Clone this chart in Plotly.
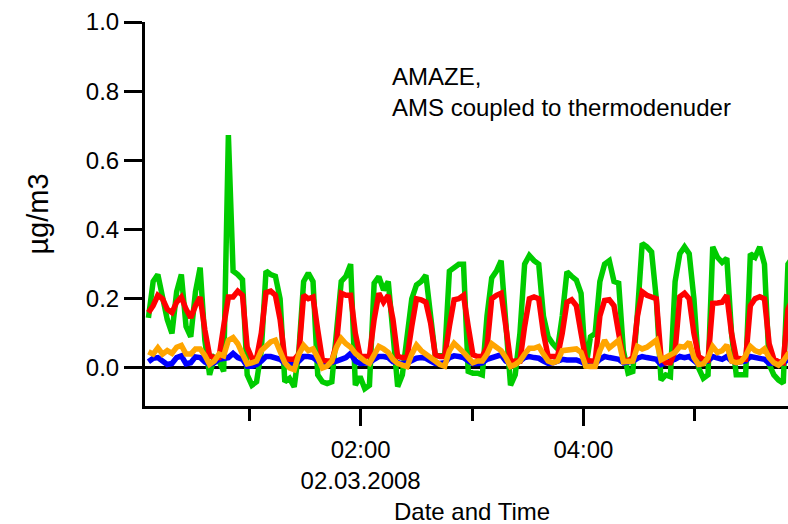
import plotly.graph_objects as go
import pandas as pd

# sampling grid of the instrument (one point every 152 s)
start_time = "2008-03-02 00:05:40"
sample_interval = "152s"

green = [0.145, 0.25, 0.27, 0.21, 0.14, 0.10, 0.22, 0.27, 0.12, 0.09,
         0.22, 0.29, 0.08, -0.02, 0.03, 0.02, -0.01, 0.673, 0.28, 0.27,
         0.255, -0.02, -0.05, -0.04, 0.05, 0.28, 0.27, 0.265, 0.20, -0.04,
         -0.03, -0.055, 0.05, 0.25, 0.274, 0.25, -0.02, -0.04, -0.045, -0.04,
         0.10, 0.25, 0.265, 0.30, -0.05, -0.025, -0.06, -0.05, 0.245, 0.264,
         0.225, 0.25, 0.10, -0.054, -0.02, 0.10, 0.20, 0.24, 0.25, 0.268,
         0.15, 0.035, 0.035, 0.035, 0.28, 0.29, 0.30, 0.30, -0.01, -0.015,
         -0.015, -0.02, 0.15, 0.26, 0.28, 0.31, 0.10, -0.05, -0.02, 0.10,
         0.30, 0.325, 0.31, 0.30, 0.15, 0.09, 0.07, 0.055, 0.15, 0.278,
         0.265, 0.254, 0.216, 0.0, 0.09, 0.10, 0.25, 0.30, 0.31, 0.25,
         0.245, 0.05, -0.015, -0.01, 0.16, 0.36, 0.35, 0.335, 0.20, -0.035,
         -0.02, -0.025, 0.25, 0.33, 0.35, 0.33, 0.20, 0.0, -0.03, -0.02,
         0.35, 0.32, 0.305, 0.317, 0.10, -0.02, -0.02, -0.02, 0.33, 0.32,
         0.35, 0.30, 0.01, -0.02, -0.035, -0.044, 0.30, 0.32]

red = [0.16, 0.18, 0.21, 0.20, 0.17, 0.16, 0.19, 0.205, 0.17, 0.145,
       0.18, 0.205, 0.11, 0.035, 0.03, 0.03, 0.12, 0.205, 0.205, 0.222,
       0.21, 0.06, 0.028, 0.028, 0.10, 0.218, 0.222, 0.21, 0.14, 0.027,
       0.025, 0.025, 0.04, 0.21, 0.20, 0.205, 0.11, 0.022, 0.02, 0.02,
       0.07, 0.216, 0.21, 0.21, 0.10, 0.035, 0.033, 0.035, 0.14, 0.216,
       0.19, 0.21, 0.14, 0.033, 0.03, 0.03, 0.12, 0.20, 0.197, 0.19,
       0.13, 0.038, 0.033, 0.033, 0.12, 0.197, 0.20, 0.21, 0.12, 0.038,
       0.033, 0.033, 0.06, 0.20, 0.21, 0.216, 0.12, 0.018, 0.02, 0.02,
       0.12, 0.20, 0.205, 0.20, 0.10, 0.033, 0.033, 0.033, 0.10, 0.19,
       0.197, 0.18, 0.10, 0.025, 0.02, 0.02, 0.15, 0.195, 0.197, 0.18,
       0.10, 0.025, 0.02, 0.03, 0.15, 0.22, 0.21, 0.206, 0.20, 0.03,
       0.015, 0.015, 0.05, 0.206, 0.216, 0.20, 0.10, 0.033, 0.025, 0.023,
       0.187, 0.188, 0.19, 0.21, 0.10, 0.028, 0.025, 0.025, 0.18, 0.20,
       0.206, 0.20, 0.07, 0.025, 0.018, 0.015, 0.17, 0.20]

blue = [0.018, 0.028, 0.03, 0.02, 0.01, 0.013, 0.03, 0.035, 0.012, 0.015,
        0.032, 0.03, 0.017, 0.01, 0.015, 0.025, 0.028, 0.03, 0.042, 0.03,
        0.025, 0.005, 0.005, 0.01, 0.02, 0.033, 0.033, 0.03, 0.025, 0.013,
        0.013, 0.01, 0.02, 0.033, 0.033, 0.03, 0.02, 0.013, 0.013, 0.015,
        0.02, 0.025, 0.03, 0.042, 0.02, 0.013, 0.013, 0.015, 0.025, 0.033,
        0.033, 0.03, 0.018, 0.013, 0.012, 0.015, 0.022, 0.028, 0.03, 0.028,
        0.02, 0.013, 0.013, 0.015, 0.03, 0.035, 0.033, 0.03, 0.02, 0.013,
        0.013, 0.015, 0.025, 0.03, 0.035, 0.038, 0.02, 0.013, 0.015, 0.02,
        0.03, 0.033, 0.03, 0.028, 0.02, 0.013, 0.015, 0.02, 0.025, 0.023,
        0.023, 0.023, 0.018, 0.01, 0.01, 0.012, 0.025, 0.033, 0.03, 0.028,
        0.025, 0.015, 0.018, 0.02, 0.028, 0.033, 0.03, 0.028, 0.025, 0.01,
        0.015, 0.018, 0.025, 0.033, 0.03, 0.033, 0.02, 0.01, 0.018, 0.02,
        0.033, 0.03, 0.025, 0.033, 0.02, 0.015, 0.018, 0.02, 0.033, 0.03,
        0.03, 0.025, 0.013, 0.013, 0.015, 0.015, 0.025, 0.03]

orange = [0.047, 0.04, 0.058, 0.04, 0.05, 0.042, 0.06, 0.065, 0.04, 0.04,
          0.055, 0.055, 0.036, 0.01, 0.02, 0.04, 0.035, 0.08, 0.088, 0.07,
          0.04, 0.012, 0.015, 0.02, 0.05, 0.065, 0.075, 0.08, 0.045, 0.015,
          0.0, -0.005, 0.04, 0.065, 0.05, 0.055, 0.03, 0.0, 0.005, 0.02,
          0.06, 0.085, 0.07, 0.06, 0.042, 0.03, 0.02, 0.013, 0.04, 0.062,
          0.055, 0.045, 0.025, 0.013, 0.008, 0.004, 0.04, 0.066, 0.05, 0.04,
          0.03, 0.02, 0.01, 0.005, 0.05, 0.071, 0.06, 0.045, 0.03, 0.015,
          0.02, 0.02, 0.04, 0.07, 0.06, 0.05, 0.03, 0.004, 0.01, 0.02,
          0.04, 0.057, 0.057, 0.062, 0.04, 0.02, 0.015, 0.02, 0.05, 0.052,
          0.055, 0.055, 0.045, 0.005, 0.004, 0.004, 0.05, 0.08, 0.058, 0.07,
          0.08, 0.018, 0.018, 0.02, 0.062, 0.055, 0.06, 0.07, 0.08, 0.023,
          0.03, 0.035, 0.045, 0.062, 0.06, 0.075, 0.03, 0.01, 0.012, 0.03,
          0.062, 0.045, 0.05, 0.066, 0.02, 0.015, 0.018, 0.035, 0.062, 0.05,
          0.045, 0.055, 0.03, 0.015, 0.008, 0.02, 0.04, 0.05]

x_range = ["2008-03-02 00:03:49", "2008-03-02 05:50:13"]
major_ticks = ["2008-03-02 02:00", "2008-03-02 04:00"]
major_labels = ["02:00<br>02.03.2008", "04:00"]
minor_ticks = ["2008-03-02 01:00", "2008-03-02 03:00", "2008-03-02 05:00"]
y_ticks = [0.0, 0.2, 0.4, 0.6, 0.8, 1.0]

times = pd.date_range(start_time, periods=len(red), freq=sample_interval)

series = [("green", green, "#00CC00"),
          ("blue", blue, "#0000FF"),
          ("red", red, "#FF0000"),
          ("orange", orange, "#FFA500")]

fig = go.Figure()
for name, vals, col in series:
    fig.add_trace(go.Scatter(x=times, y=vals, mode="lines", name=name,
                             line=dict(color=col, width=5.5)))

font_family = "Liberation Sans, Arial, sans-serif"

fig.update_layout(
    width=788, height=524,
    margin=dict(l=145, r=0, t=22, b=118),
    paper_bgcolor="white", plot_bgcolor="white",
    showlegend=False,
    font=dict(family=font_family, size=24, color="black"),
    xaxis=dict(range=x_range, showline=True, linecolor="black", linewidth=3,
               ticks="outside", ticklen=17, tickwidth=3, tickcolor="black",
               tickmode="array", tickvals=major_ticks, ticktext=major_labels,
               ticklabelstandoff=3,
               showgrid=False, zeroline=False,
               minor=dict(tickmode="array", tickvals=minor_ticks, ticks="outside",
                          ticklen=12, tickwidth=3, tickcolor="black", showgrid=False)),
    yaxis=dict(range=[-0.11, 1.0], showline=True, linecolor="black", linewidth=3,
               ticks="outside", ticklen=18, tickwidth=3, tickcolor="black",
               tickmode="array", tickvals=y_ticks, tickformat=".1f",
               showgrid=False, zeroline=True, zerolinecolor="black", zerolinewidth=3,
               title=dict(text="µg/m3", standoff=29)),
    annotations=[
        dict(text="AMAZE,<br>AMS coupled to thermodenuder", xref="paper", yref="paper",
             x=(390 - 145) / 643, y=(406 - 61) / 384, xanchor="left", yanchor="top",
             align="left", showarrow=False, font=dict(size=24)),
        dict(text="Date and Time", xref="paper", yref="paper",
             x=(472 - 145) / 643, y=(406 - 511) / 384, xanchor="center", yanchor="middle",
             showarrow=False, font=dict(size=24)),
    ],
)

fig.write_html("out.html")
